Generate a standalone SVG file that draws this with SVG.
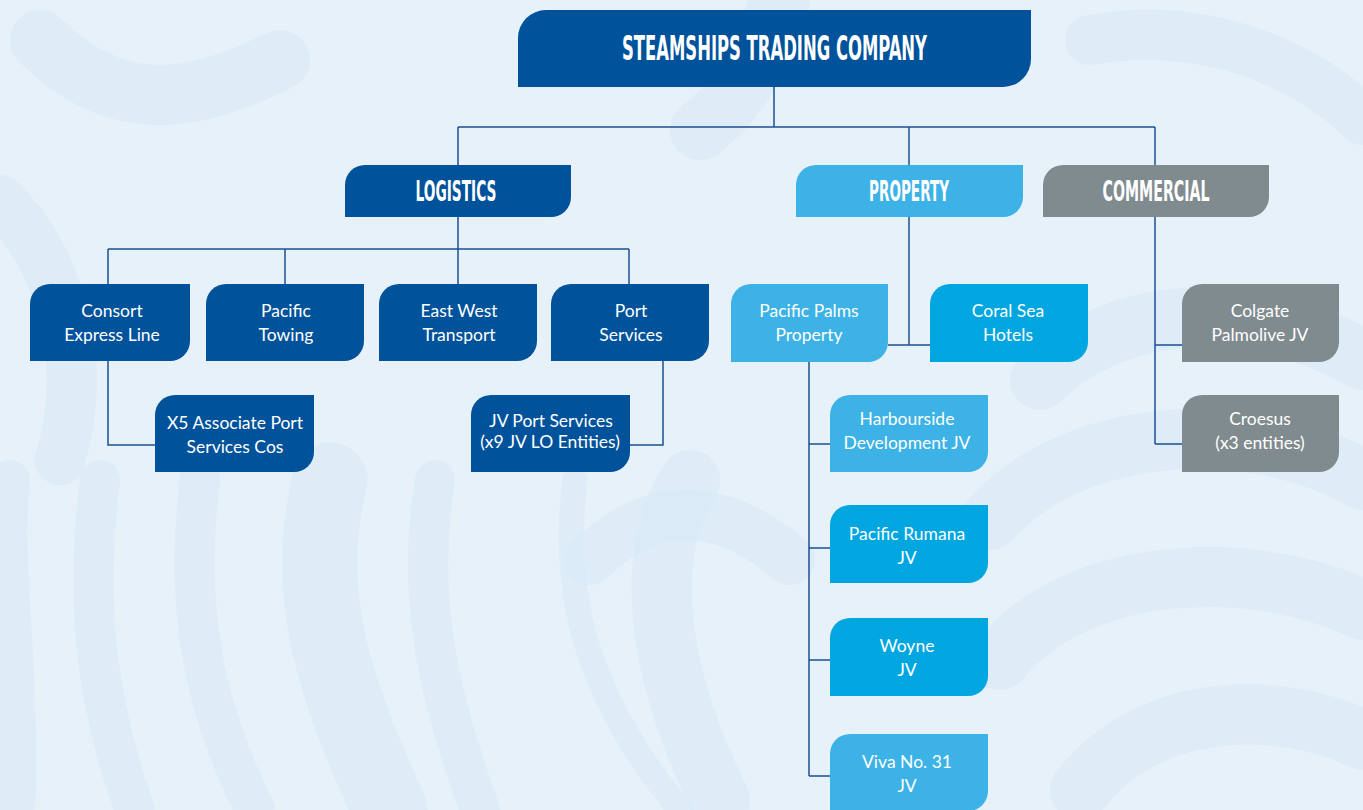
<svg xmlns="http://www.w3.org/2000/svg" width="1363" height="810" viewBox="0 0 1363 810">
<defs>
<style>
.bg{fill:#E6F1FA}
.wave{fill:none;stroke:#D6E8F6;stroke-linecap:round;opacity:0.5}
.dark{fill:#00529B}
.light{fill:#3CB2E6}
.cyan{fill:#00A6E0}
.gray{fill:#7F8B8E}
.conn{fill:none;stroke:#1B4F94;stroke-width:1.5}
.head{font-family:"Liberation Sans Narrow","DejaVu Sans Condensed","Liberation Sans",sans-serif;font-weight:bold;fill:#FFFFFF;text-anchor:middle}
.lbl{font-family:Lato,"Open Sans","Liberation Sans",sans-serif;font-size:17.5px;fill:#FFFFFF;text-anchor:middle}
</style>
</defs>
<rect class="bg" x="0" y="0" width="1363" height="810"/>
<g id="background">
<path class="wave" stroke-width="40" d="M10 480 C0 560 20 650 15 810"/>
<path class="wave" stroke-width="40" d="M100 480 C85 600 95 700 135 810"/>
<path class="wave" stroke-width="40" d="M200 480 C185 600 200 700 255 810"/>
<path class="wave" stroke-width="75" d="M330 480 C300 600 340 700 390 810"/>
<path class="wave" stroke-width="40" d="M435 480 C415 600 440 700 480 810"/>
<path class="wave" stroke-width="25" d="M575 480 C560 600 590 700 680 810"/>
<path class="wave" stroke-width="60" d="M690 480 C640 560 660 680 720 800"/>
<path class="wave" stroke-width="60" d="M40 40 C120 120 200 100 280 60"/>
<path class="wave" stroke-width="50" d="M0 200 C60 260 90 360 60 460"/>
<path class="wave" stroke-width="60" d="M1040 380 C1120 300 1260 300 1363 360"/>
<path class="wave" stroke-width="60" d="M990 520 C1080 420 1260 420 1363 480"/>
<path class="wave" stroke-width="60" d="M1000 660 C1080 560 1260 560 1363 610"/>
<path class="wave" stroke-width="60" d="M1080 790 C1150 700 1280 700 1363 740"/>
<path class="wave" stroke-width="50" d="M1090 40 C1200 20 1300 60 1363 120"/>
<path class="wave" stroke-width="60" d="M780 0 C760 60 740 100 700 130"/>
<path class="wave" stroke-width="50" d="M590 560 C650 500 720 500 790 560"/>
</g>
<g id="connectors">
<path class="conn" d="M774 87 V127 M458 127 H1155 M458 127 V165 M909 127 V165 M1155 127 V165"/>
<path class="conn" d="M458 217 V284 M108 249 H629 M108 249 V284 M285 249 V284 M629 249 V284"/>
<path class="conn" d="M108 361 V445 H155"/>
<path class="conn" d="M663 361 V445 H630"/>
<path class="conn" d="M909 217 V345 M888 345 H930"/>
<path class="conn" d="M809 362 V776 M809 444 H830 M809 548 H830 M809 660 H830 M809 776 H830"/>
<path class="conn" d="M1155 217 V444 M1155 345 H1182 M1155 444 H1182"/>
</g>
<g id="steamships">
<path class="dark" d="M518 38 A28 28 0 0 1 546 10 H1031 V59 A28 28 0 0 1 1003 87 H518 Z"/>
<text class="head" x="774.5" y="60" font-size="34" textLength="305" lengthAdjust="spacingAndGlyphs">STEAMSHIPS TRADING COMPANY</text>
</g>
<g id="logistics">
<path class="dark" d="M345 185 A20 20 0 0 1 365 165 H571 V197 A20 20 0 0 1 551 217 H345 Z"/>
<text class="head" x="456" y="201" font-size="29" textLength="81" lengthAdjust="spacingAndGlyphs">LOGISTICS</text>
</g>
<g id="property">
<path class="light" d="M796 185 A20 20 0 0 1 816 165 H1023 V197 A20 20 0 0 1 1003 217 H796 Z"/>
<text class="head" x="909" y="201" font-size="29" textLength="80" lengthAdjust="spacingAndGlyphs">PROPERTY</text>
</g>
<g id="commercial">
<path class="gray" d="M1043 185 A20 20 0 0 1 1063 165 H1269 V197 A20 20 0 0 1 1249 217 H1043 Z"/>
<text class="head" x="1156" y="201" font-size="29" textLength="107" lengthAdjust="spacingAndGlyphs">COMMERCIAL</text>
</g>
<g id="consort">
<path class="dark" d="M30 304 A20 20 0 0 1 50 284 H190 V341 A20 20 0 0 1 170 361 H30 Z"/>
<text class="lbl" x="112" y="317">Consort</text>
<text class="lbl" x="112" y="341">Express Line</text>
</g>
<g id="pacific-towing">
<path class="dark" d="M206 304 A20 20 0 0 1 226 284 H364 V341 A20 20 0 0 1 344 361 H206 Z"/>
<text class="lbl" x="286" y="317">Pacific</text>
<text class="lbl" x="286" y="341">Towing</text>
</g>
<g id="east-west">
<path class="dark" d="M379 304 A20 20 0 0 1 399 284 H537 V341 A20 20 0 0 1 517 361 H379 Z"/>
<text class="lbl" x="459" y="317">East West</text>
<text class="lbl" x="459" y="341">Transport</text>
</g>
<g id="port-services">
<path class="dark" d="M551 304 A20 20 0 0 1 571 284 H709 V341 A20 20 0 0 1 689 361 H551 Z"/>
<text class="lbl" x="631" y="317">Port</text>
<text class="lbl" x="631" y="341">Services</text>
</g>
<g id="x5">
<path class="dark" d="M155 415 A20 20 0 0 1 175 395 H314 V452 A20 20 0 0 1 294 472 H155 Z"/>
<text class="lbl" x="235" y="429">X5 Associate Port</text>
<text class="lbl" x="235" y="453">Services Cos</text>
</g>
<g id="jv-port">
<path class="dark" d="M471 415 A20 20 0 0 1 491 395 H630 V452 A20 20 0 0 1 610 472 H471 Z"/>
<text class="lbl" x="551" y="427">JV Port Services</text>
<text class="lbl" x="550" y="448">(x9 JV LO Entities)</text>
</g>
<g id="pacific-palms">
<path class="light" d="M731 304 A20 20 0 0 1 751 284 H888 V342 A20 20 0 0 1 868 362 H731 Z"/>
<text class="lbl" x="809" y="317">Pacific Palms</text>
<text class="lbl" x="809" y="341">Property</text>
</g>
<g id="coral-sea">
<path class="cyan" d="M930 304 A20 20 0 0 1 950 284 H1088 V342 A20 20 0 0 1 1068 362 H930 Z"/>
<text class="lbl" x="1008" y="317">Coral Sea</text>
<text class="lbl" x="1008" y="341">Hotels</text>
</g>
<g id="colgate">
<path class="gray" d="M1182 304 A20 20 0 0 1 1202 284 H1339 V342 A20 20 0 0 1 1319 362 H1182 Z"/>
<text class="lbl" x="1260" y="317">Colgate</text>
<text class="lbl" x="1260" y="341">Palmolive JV</text>
</g>
<g id="croesus">
<path class="gray" d="M1182 415 A20 20 0 0 1 1202 395 H1339 V452 A20 20 0 0 1 1319 472 H1182 Z"/>
<text class="lbl" x="1260" y="425">Croesus</text>
<text class="lbl" x="1260" y="449">(x3 entities)</text>
</g>
<g id="harbourside">
<path class="light" d="M830 415 A20 20 0 0 1 850 395 H988 V452 A20 20 0 0 1 968 472 H830 Z"/>
<text class="lbl" x="907" y="425">Harbourside</text>
<text class="lbl" x="907" y="449">Development JV</text>
</g>
<g id="pacific-rumana">
<path class="cyan" d="M830 525 A20 20 0 0 1 850 505 H988 V563 A20 20 0 0 1 968 583 H830 Z"/>
<text class="lbl" x="907" y="540">Pacific Rumana</text>
<text class="lbl" x="907" y="564">JV</text>
</g>
<g id="woyne">
<path class="cyan" d="M830 638 A20 20 0 0 1 850 618 H988 V676 A20 20 0 0 1 968 696 H830 Z"/>
<text class="lbl" x="907" y="652">Woyne</text>
<text class="lbl" x="907" y="676">JV</text>
</g>
<g id="viva">
<path class="light" d="M830 754 A20 20 0 0 1 850 734 H988 V791 A20 20 0 0 1 968 811 H830 Z"/>
<text class="lbl" x="907" y="768">Viva No. 31</text>
<text class="lbl" x="907" y="792">JV</text>
</g>
</svg>
